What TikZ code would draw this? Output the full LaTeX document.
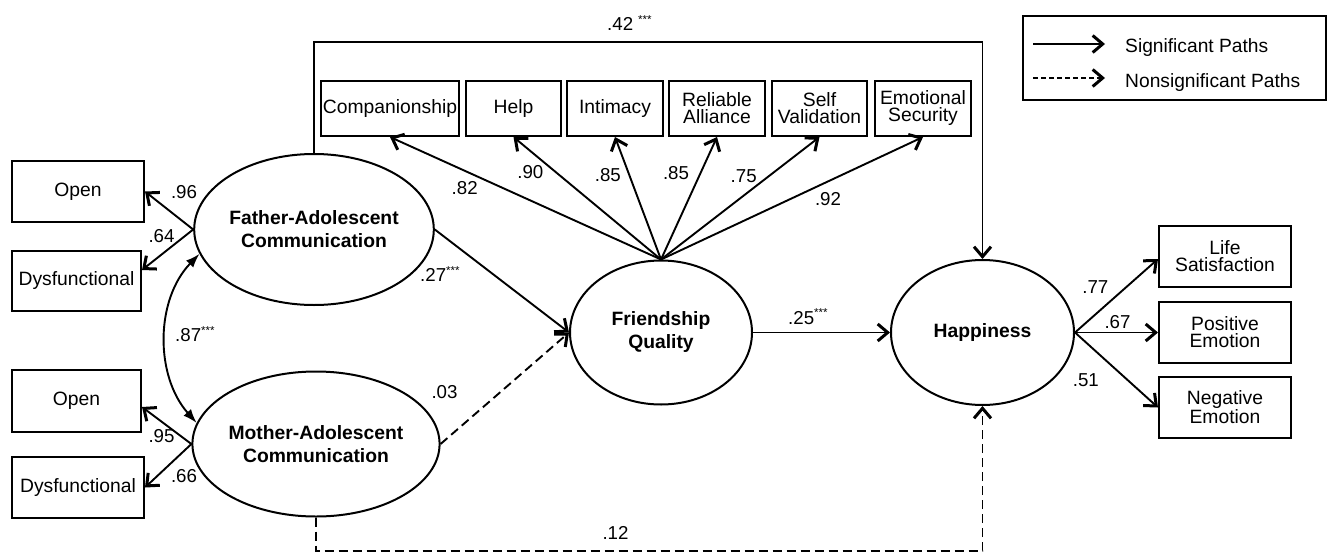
\documentclass[tikz,border=0pt]{standalone}
\usepackage{fontspec}
\setmainfont{Liberation Sans}
\usetikzlibrary{shapes.geometric,arrows.meta}
\newcommand{\mystars}{\raisebox{7.5pt}{\fontsize{11.5}{11.5}\selectfont ***}}
\tikzset{
  obsbox/.style={draw, rectangle, line width=2pt, inner sep=0pt, align=center,
    font=\fontsize{19.3}{17}\selectfont},
  latent/.style={draw, ellipse, line width=2pt, inner sep=0pt, align=center,
    font=\fontsize{19.3}{23}\selectfont\bfseries},
  sigpath/.style={line width=1.9pt, -{Straight Barb[length=10pt,width=17pt,line width=3pt]}},
  nspath/.style={sigpath, dash pattern=on 9pt off 5pt},
  covpath/.style={line width=1.9pt, {Latex[length=14pt,width=10pt]}-{Latex[length=14pt,width=10pt]}},
  lbl/.style={font=\fontsize{18.7}{18.7}\selectfont, inner sep=0pt},
}
\begin{document}
\begin{tikzpicture}[x=1pt,y=-1pt]
\useasboundingbox (0,0) rectangle (1328,554);

% latent variables
\node[latent, minimum width=218pt, minimum height=151pt] (fa) at (314,229.5) {Father-Adolescent\\Communication};
\node[latent, minimum width=214pt, minimum height=145pt] (ma) at (316,444) {Mother-Adolescent\\Communication};
\node[latent, minimum width=182pt, minimum height=144pt] (fq) at (661,332.5) {Friendship\\Quality};
\node[latent, minimum width=183pt, minimum height=145pt] (hap) at (982.5,332.5) {Happiness};

% left indicators
\node[obsbox, minimum width=132pt, minimum height=61pt] (fopen) at (78,191.5) {Open};
\node[obsbox, minimum width=129pt, minimum height=60pt] (fdys) at (76.5,281) {Dysfunctional};
\node[obsbox, minimum width=129pt, minimum height=62pt] (mopen) at (76.5,401) {Open};
\node[obsbox, minimum width=132pt, minimum height=61pt] (mdys) at (78,487.5) {Dysfunctional};

% friendship indicators
\node[obsbox, minimum width=138pt, minimum height=55pt] (comp) at (390,108.5) {Companionship};
\node[obsbox, minimum width=95pt, minimum height=55pt] (help) at (513.5,108.5) {Help};
\node[obsbox, minimum width=96pt, minimum height=55pt] (intim) at (615,108.5) {Intimacy};
\node[obsbox, minimum width=96pt, minimum height=55pt] (rel) at (717,108.5) {Reliable\\Alliance};
\node[obsbox, minimum width=95pt, minimum height=55pt] (selfv) at (819.5,108.5) {Self\\Validation};
\node[obsbox, minimum width=96pt, minimum height=55pt] (emo) at (923,108.5) {Emotional\\Security};

% happiness indicators
\node[obsbox, minimum width=132pt, minimum height=61pt] (life) at (1225,256.5) {Life\\Satisfaction};
\node[obsbox, minimum width=132pt, minimum height=61pt] (pos) at (1225,332.5) {Positive\\Emotion};
\node[obsbox, minimum width=132pt, minimum height=61pt] (neg) at (1225,407.5) {Negative\\Emotion};

% measurement paths
\draw[sigpath] (fa.west) -- (fopen.east);
\draw[sigpath] (fa.west) -- ([yshift=11pt]fdys.east);
\draw[sigpath] (ma.west) -- ([yshift=-6pt]mopen.east);
\draw[sigpath] (ma.west) -- (mdys.east);
\foreach \b in {comp,help,intim,rel,selfv,emo}
  \draw[sigpath] (fq.north) -- (\b.south);
\draw[sigpath] (hap.east) -- ([yshift=-2.5pt]life.west);
\draw[sigpath] (hap.east) -- (pos.west);
\draw[sigpath] (hap.east) -- (neg.west);

% covariance
\draw[covpath] (fa.192) .. controls (155,300) and (155,376) .. (ma.170);

% structural paths
\draw[sigpath] (fa.east) -- (fq.west);
\draw[nspath] (ma.east) -- (fq.west);
\draw[sigpath] (fq.east) -- (hap.west);
\coordinate (topy) at (0,42);
\coordinate (boty) at (0,551);
\draw[sigpath] (fa.north) -- (fa.north |- topy) -- (hap.north |- topy) -- (hap.north);
\draw[nspath] (ma.south) -- (ma.south |- boty) -- (hap.south |- boty) -- (hap.south);

% coefficient labels
\node[lbl] (l96) at (184,192.5) {.96};
\node[lbl] (l64) at (161.5,236.5) {.64};
\node[lbl] (l95) at (161.5,436.5) {.95};
\node[lbl] (l66) at (184,476.5) {.66};
\node[lbl, anchor=base west] (l87) at (175,341.5) {.87\mystars};
\node[lbl, anchor=base west] (l27) at (420,281.5) {.27\mystars};
\node[lbl] (l03) at (444.5,392.5) {.03};
\node[lbl, anchor=base west] (l25) at (788,324) {.25\mystars};
\node[lbl] (l12) at (615.5,532.7) {.12};
\node[lbl, anchor=base west] (l42) at (607,30.7) {.42\hspace{5pt}\mystars};
\node[lbl] (l82) at (464.7,187.7) {.82};
\node[lbl] (l90) at (530.3,172.3) {.90};
\node[lbl] (l85a) at (607.8,174.7) {.85};
\node[lbl] (l85b) at (676,172.7) {.85};
\node[lbl] (l75) at (743.7,176.3) {.75};
\node[lbl] (l92) at (828,198.7) {.92};
\node[lbl] (l77) at (1095.3,287.3) {.77};
\node[lbl] (l67) at (1117.5,321.7) {.67};
\node[lbl] (l51) at (1085.8,380) {.51};

% legend
\node[draw, rectangle, line width=2pt, minimum width=303pt, minimum height=84pt, inner sep=0pt] (leg) at (1174.5,58) {};
\coordinate (ls1) at (1033,44);
\coordinate (le1) at (1105,44);
\coordinate (ls2) at (1033,78);
\coordinate (le2) at (1105,78);
\draw[sigpath] (ls1) -- (le1);
\draw[sigpath, dash pattern=on 5pt off 3pt] (ls2) -- (le2);
\node[lbl, font=\fontsize{19.2}{19.2}\selectfont, anchor=base west] (lt1) at (1125,52.5) {Significant Paths};
\node[lbl, font=\fontsize{19.2}{19.2}\selectfont, anchor=base west] (lt2) at (1125,87.5) {Nonsignificant Paths};
\end{tikzpicture}
\end{document}
